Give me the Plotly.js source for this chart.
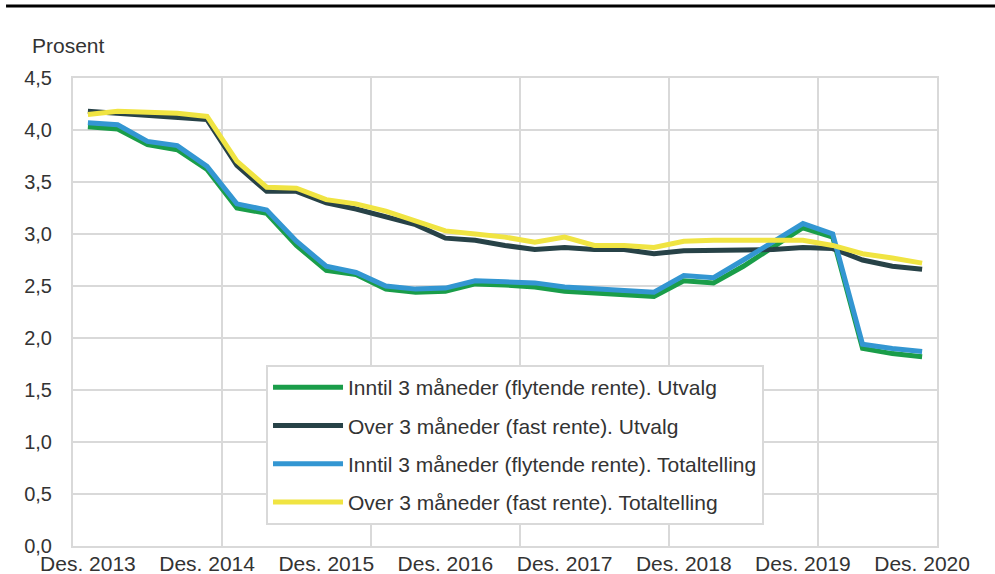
<!DOCTYPE html>
<html>
<head>
<meta charset="utf-8">
<script src="https://cdn.plot.ly/plotly-3.0.1.min.js"></script>
<style>
  html, body { margin: 0; padding: 0; background: #fff; }
  #chart { width: 995px; height: 574px; }
</style>
</head>
<body>
<div id="chart"></div>
<script>
// Kvartalstall, des. 2013 - des. 2020 (29 punkter)
const kvartal = [
  'Des. 2013', 'Mar. 2014', 'Jun. 2014', 'Sep. 2014',
  'Des. 2014', 'Mar. 2015', 'Jun. 2015', 'Sep. 2015',
  'Des. 2015', 'Mar. 2016', 'Jun. 2016', 'Sep. 2016',
  'Des. 2016', 'Mar. 2017', 'Jun. 2017', 'Sep. 2017',
  'Des. 2017', 'Mar. 2018', 'Jun. 2018', 'Sep. 2018',
  'Des. 2018', 'Mar. 2019', 'Jun. 2019', 'Sep. 2019',
  'Des. 2019', 'Mar. 2020', 'Jun. 2020', 'Sep. 2020',
  'Des. 2020'
];
const tickLabels = ['Des. 2013', 'Des. 2014', 'Des. 2015', 'Des. 2016',
                    'Des. 2017', 'Des. 2018', 'Des. 2019', 'Des. 2020'];

const flytendeUtvalg = [4.03, 4.01, 3.86, 3.81, 3.62, 3.25, 3.20, 2.89, 2.65, 2.61,
  2.47, 2.44, 2.45, 2.52, 2.51, 2.49, 2.45, 2.43, 2.41, 2.40,
  2.55, 2.53, 2.69, 2.87, 3.06, 2.97, 1.90, 1.85, 1.82];
const fastUtvalg = [4.18, 4.16, 4.14, 4.13, 4.10, 3.66, 3.41, 3.41, 3.30, 3.24,
  3.17, 3.09, 2.96, 2.94, 2.89, 2.85, 2.87, 2.85, 2.85, 2.81,
  2.84, 2.84, 2.84, 2.85, 2.87, 2.86, 2.75, 2.69, 2.66];
const flytendeTotal = [4.07, 4.05, 3.89, 3.85, 3.65, 3.29, 3.23, 2.93, 2.69, 2.63,
  2.50, 2.47, 2.48, 2.55, 2.54, 2.53, 2.49, 2.47, 2.45, 2.44,
  2.60, 2.58, 2.75, 2.93, 3.10, 3.00, 1.94, 1.90, 1.87];
const fastTotal = [4.15, 4.18, 4.17, 4.16, 4.13, 3.70, 3.45, 3.44, 3.33, 3.29,
  3.22, 3.13, 3.03, 3.00, 2.97, 2.92, 2.97, 2.89, 2.89, 2.87,
  2.93, 2.94, 2.94, 2.93, 2.94, 2.89, 2.81, 2.77, 2.72];

const seriesNames = [
  'Inntil 3 måneder (flytende rente). Utvalg',
  'Over 3 måneder (fast rente). Utvalg',
  'Inntil 3 måneder (flytende rente). Totaltelling',
  'Over 3 måneder (fast rente). Totaltelling'
];
const seriesColors = ['#1a9d49', '#274247', '#3396d2', '#f0e442'];

const font = 'Liberation Sans, Arial, sans-serif';
const textColor = '#333333';
const gridColor = '#d9d9d9';

const xIdx = kvartal.map((_, i) => i);
const tickIdx = tickLabels.map(l => kvartal.indexOf(l));

const traces = [flytendeUtvalg, fastUtvalg, flytendeTotal, fastTotal].map((vals, k) => ({
  x: xIdx,
  y: vals,
  type: 'scatter',
  mode: 'lines',
  name: seriesNames[k],
  legendgroup: 'g' + k,
  line: {color: seriesColors[k], width: 5},
  hoverinfo: 'x+y'
}));

const layout = {
  width: 995,
  height: 574,
  margin: {l: 73, r: 58, t: 78, b: 28},
  paper_bgcolor: '#ffffff',
  plot_bgcolor: '#ffffff',
  separators: ', ',
  font: {family: font, color: textColor, size: 20},
  showlegend: true,
  legend: {
    x: 0.2234, y: 0.3868, xanchor: 'left', yanchor: 'top',
    bgcolor: '#ffffff',
    bordercolor: gridColor,
    borderwidth: 2,
    traceorder: 'grouped',
    tracegroupgap: 8,
    itemwidth: 70,
    font: {family: font, size: 21, color: textColor}
  },
  xaxis: {
    range: [-0.5, 28.5],
    tickmode: 'array',
    tickvals: tickIdx,
    ticktext: tickLabels,
    showgrid: false,
    zeroline: false,
    showline: true,
    mirror: true,
    linecolor: gridColor,
    linewidth: 2,
    ticks: '',
    ticklabelstandoff: -2,
    tickfont: {family: font, size: 21, color: textColor},
    minor: {
      tickmode: 'array',
      tickvals: [4.5, 9.5, 14.5, 19.5, 24.5],
      showgrid: true,
      gridcolor: gridColor,
      gridwidth: 2,
      ticks: ''
    },
    fixedrange: true
  },
  yaxis: {
    range: [0, 4.5],
    tick0: 0,
    dtick: 0.5,
    tickformat: '.1f',
    showgrid: true,
    gridcolor: gridColor,
    gridwidth: 2,
    zeroline: false,
    showline: true,
    mirror: true,
    linecolor: gridColor,
    linewidth: 2,
    ticks: '',
    ticklabelstandoff: 15,
    tickfont: {family: font, size: 20, color: textColor},
    fixedrange: true
  },
  annotations: [{
    text: 'Prosent',
    xref: 'paper', yref: 'paper',
    x: -0.05, y: 1.0705,
    xanchor: 'left', yanchor: 'middle',
    showarrow: false,
    font: {family: font, size: 21, color: textColor}
  }],
  shapes: [{
    type: 'line',
    xref: 'paper', yref: 'paper',
    x0: -0.0775, x1: 1.07, y0: 1.1538, y1: 1.1538,
    line: {color: '#000000', width: 3}
  }]
};

Plotly.newPlot('chart', traces, layout, {displayModeBar: false, staticPlot: true});
</script>
</body>
</html>
